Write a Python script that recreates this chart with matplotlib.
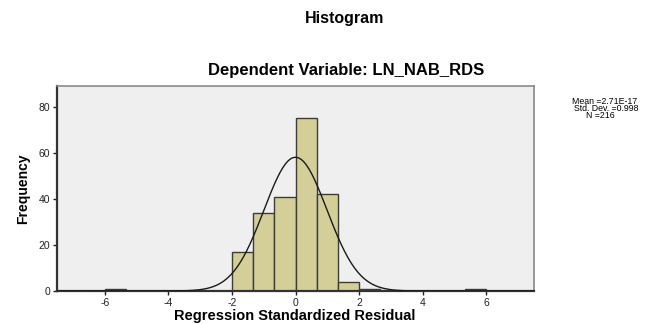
import matplotlib.pyplot as plt
import numpy as np

# histogram bins (bin width ~0.667)
bin_left = [-6.0, -2.0, -1.333, -0.667, 0.0, 0.667, 1.333, 2.0, 5.333]
counts = [1, 17, 34, 41, 75, 42, 4, 1, 1]
bin_width = 0.667
x_ticks = [-6, -4, -2, 0, 2, 4, 6]
x_labels = ['-6', '-4', '-2', '0', '2', '4', '6']
y_ticks = [0, 20, 40, 60, 80]
mean = 0.0
std_dev = 0.99
n_obs = sum(counts)
stats_lines = ['Mean =2.71E-17', 'Std. Dev. =0.998', 'N =216']

plt.rcParams['font.family'] = ['Liberation Sans', 'DejaVu Sans']

fig = plt.figure(figsize=(6.51, 3.24), dpi=100)
ax = fig.add_axes([57/651, 33/324, 477/651, 205/324])
ax.set_facecolor('#efefef')

ax.bar(bin_left, counts, width=bin_width, align='edge',
       color='#d4cf99', edgecolor='#3c3c3c', linewidth=1.0, zorder=2)

xs = np.linspace(-7.5, 7.5, 600)
curve = n_obs * bin_width / (std_dev * np.sqrt(2 * np.pi)) * np.exp(-0.5 * ((xs - mean) / std_dev) ** 2)
ax.plot(xs, curve, color='#1a1a1a', linewidth=1.0, zorder=3)

ax.set_xlim(-7.5, 7.5)
ax.set_ylim(0, 89)
ax.set_xticks(x_ticks)
ax.set_xticklabels(x_labels)
ax.set_yticks(y_ticks)
ax.tick_params(axis='both', labelsize=7.5, colors='#222222', length=3, width=1)
ax.tick_params(axis='x', pad=2)
ax.tick_params(axis='y', pad=2)
for s in ['left', 'bottom']:
    ax.spines[s].set_color('#333333')
    ax.spines[s].set_linewidth(1.6)
for s in ['top', 'right']:
    ax.spines[s].set_color('#8a8a8a')
    ax.spines[s].set_linewidth(1.2)

ax.set_ylabel('Frequency', fontsize=10, fontweight='bold',
              family=['Liberation Sans Narrow', 'Liberation Sans', 'DejaVu Sans'], labelpad=6)
fig.text(295/651, 1 - 316/324, 'Regression Standardized Residual', ha='center', va='center',
         fontsize=10.5, fontweight='bold')

fig.text(345/651, 1 - 18/324, 'Histogram', ha='center', va='center', fontsize=11.5, fontweight='bold')
fig.text(346/651, 1 - 70/324, 'Dependent Variable: LN_NAB_RDS', ha='center', va='center',
         fontsize=12, fontweight='bold')

stat_x = [572, 574, 586]
for i, line in enumerate(stats_lines):
    fig.text(stat_x[i]/651, 1 - (101 + 7.5 * i)/324, line, ha='left', va='center', fontsize=6.3)

fig.savefig('out.png', dpi=100)
